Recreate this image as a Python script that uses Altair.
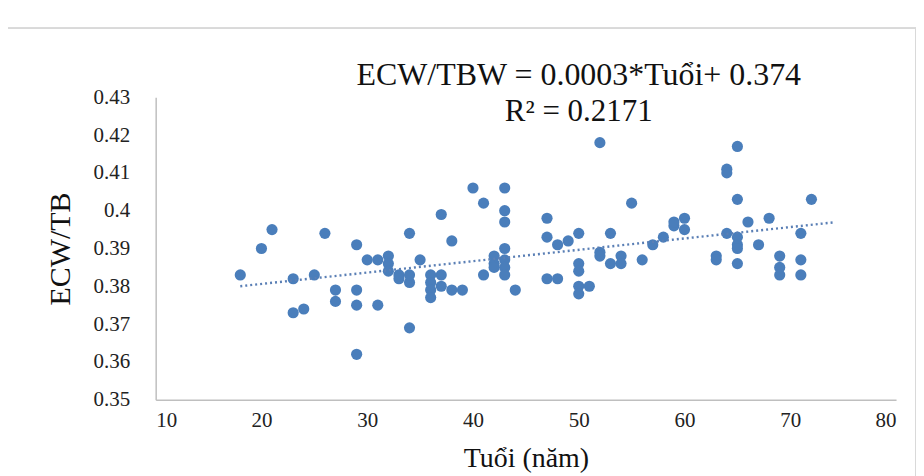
import altair as alt
import pandas as pd

ages = [18, 20, 21, 23, 23, 24, 25, 26, 27, 27,
        29, 29, 29, 29, 30, 31, 31, 32, 32, 32,
        33, 33, 34, 34, 34, 34, 35, 36, 36, 36,
        36, 37, 37, 37, 38, 38, 39, 40, 41, 41,
        42, 42, 42, 43, 43, 43, 43, 43, 43, 43,
        44, 47, 47, 47, 48, 48, 49, 50, 50, 50,
        50, 50, 51, 52, 52, 52, 53, 53, 54, 54,
        55, 56, 57, 58, 59, 59, 60, 60, 63, 63,
        64, 64, 64, 65, 65, 65, 65, 65, 65, 66,
        67, 68, 69, 69, 69, 71, 71, 71, 72]

ratios = [0.383, 0.390, 0.395, 0.382, 0.373, 0.374, 0.383, 0.394, 0.379, 0.376,
          0.391, 0.379, 0.375, 0.362, 0.387, 0.387, 0.375, 0.388, 0.386, 0.384,
          0.383, 0.382, 0.394, 0.381, 0.383, 0.369, 0.387, 0.383, 0.381, 0.379,
          0.377, 0.399, 0.383, 0.380, 0.392, 0.379, 0.379, 0.406, 0.402, 0.383,
          0.388, 0.386, 0.385, 0.406, 0.400, 0.397, 0.390, 0.387, 0.385, 0.383,
          0.379, 0.398, 0.393, 0.382, 0.382, 0.391, 0.392, 0.394, 0.386, 0.384,
          0.380, 0.378, 0.380, 0.418, 0.389, 0.388, 0.394, 0.386, 0.388, 0.386,
          0.402, 0.387, 0.391, 0.393, 0.396, 0.397, 0.398, 0.395, 0.388, 0.387,
          0.411, 0.410, 0.394, 0.417, 0.403, 0.393, 0.391, 0.390, 0.386, 0.397,
          0.391, 0.398, 0.388, 0.385, 0.383, 0.394, 0.387, 0.383, 0.403]

x_ticks = [10, 20, 30, 40, 50, 60, 70, 80]
y_ticks = [0.35, 0.36, 0.37, 0.38, 0.39, 0.40, 0.41, 0.42, 0.43]

title_line = "ECW/TBW = 0.0003*Tuổi+ 0.374"
subtitle_line = "R² = 0.2171"
x_title = "Tuổi (năm)"
y_title = "ECW/TB"

df = pd.DataFrame({"age": ages, "ratio": ratios})

FONT = "Liberation Serif"
BLUE = "#4a7ebb"

x_scale = alt.Scale(domain=[10, 80], nice=False, zero=False)
y_scale = alt.Scale(domain=[0.35, 0.43], nice=False, zero=False)

x_enc = alt.X("age:Q", scale=x_scale,
              axis=alt.Axis(values=x_ticks, title=x_title, format="d",
                            labelOverlap=False, labelFont=FONT))
y_enc = alt.Y("ratio:Q", scale=y_scale,
              axis=alt.Axis(values=y_ticks, title=y_title, labelOverlap=False,
                            labelFont=FONT,
                            labelExpr="format(datum.value, '.2~f')"))

points = alt.Chart(df).mark_circle(size=125, opacity=1, color=BLUE).encode(x=x_enc, y=y_enc)

trend = alt.Chart(df).transform_regression(
    "age", "ratio", method="linear", extent=[18, 74]
).mark_line(color="#5a7fb5", strokeWidth=2.4, strokeDash=[2, 3]).encode(x=x_enc, y=y_enc)

border = alt.Chart(df).mark_rect(fill=None, stroke="#d9d9d9", strokeWidth=1).encode(
    x=alt.value(-149), x2=alt.value(762), y=alt.value(-69), y2=alt.value(400)
)

chart = alt.layer(border, points, trend).properties(
    width=742,
    height=303,
    autosize=alt.AutoSizeParams(type="none"),
    padding={"left": 148, "top": 89, "right": 20, "bottom": 80},
    title=alt.TitleParams(
        text=title_line,
        subtitle=subtitle_line,
        font=FONT,
        fontSize=32,
        fontWeight="normal",
        color="#111",
        subtitleFont=FONT,
        subtitleFontSize=31,
        subtitleColor="#111",
        subtitlePadding=5,
        anchor="middle",
        dx=53,
        dy=70,
        offset=-30,
    ),
).configure_view(stroke=None).configure_axis(
    grid=False,
    ticks=False,
    labelOverlap=False,
    domainColor="#bfbfbf",
    domainWidth=1.5,
    labelFont=FONT,
    labelFontSize=21,
    labelColor="#222",
    titleFont=FONT,
    titleColor="#111",
    titleFontWeight="normal",
).configure_axisX(
    labelPadding=10,
    titleFontSize=28,
    titlePadding=14,
).configure_axisY(
    labelPadding=26,
    titleFontSize=30,
    titlePadding=18,
)

chart.save("out.html", embed_options={"renderer": "svg", "actions": False})
